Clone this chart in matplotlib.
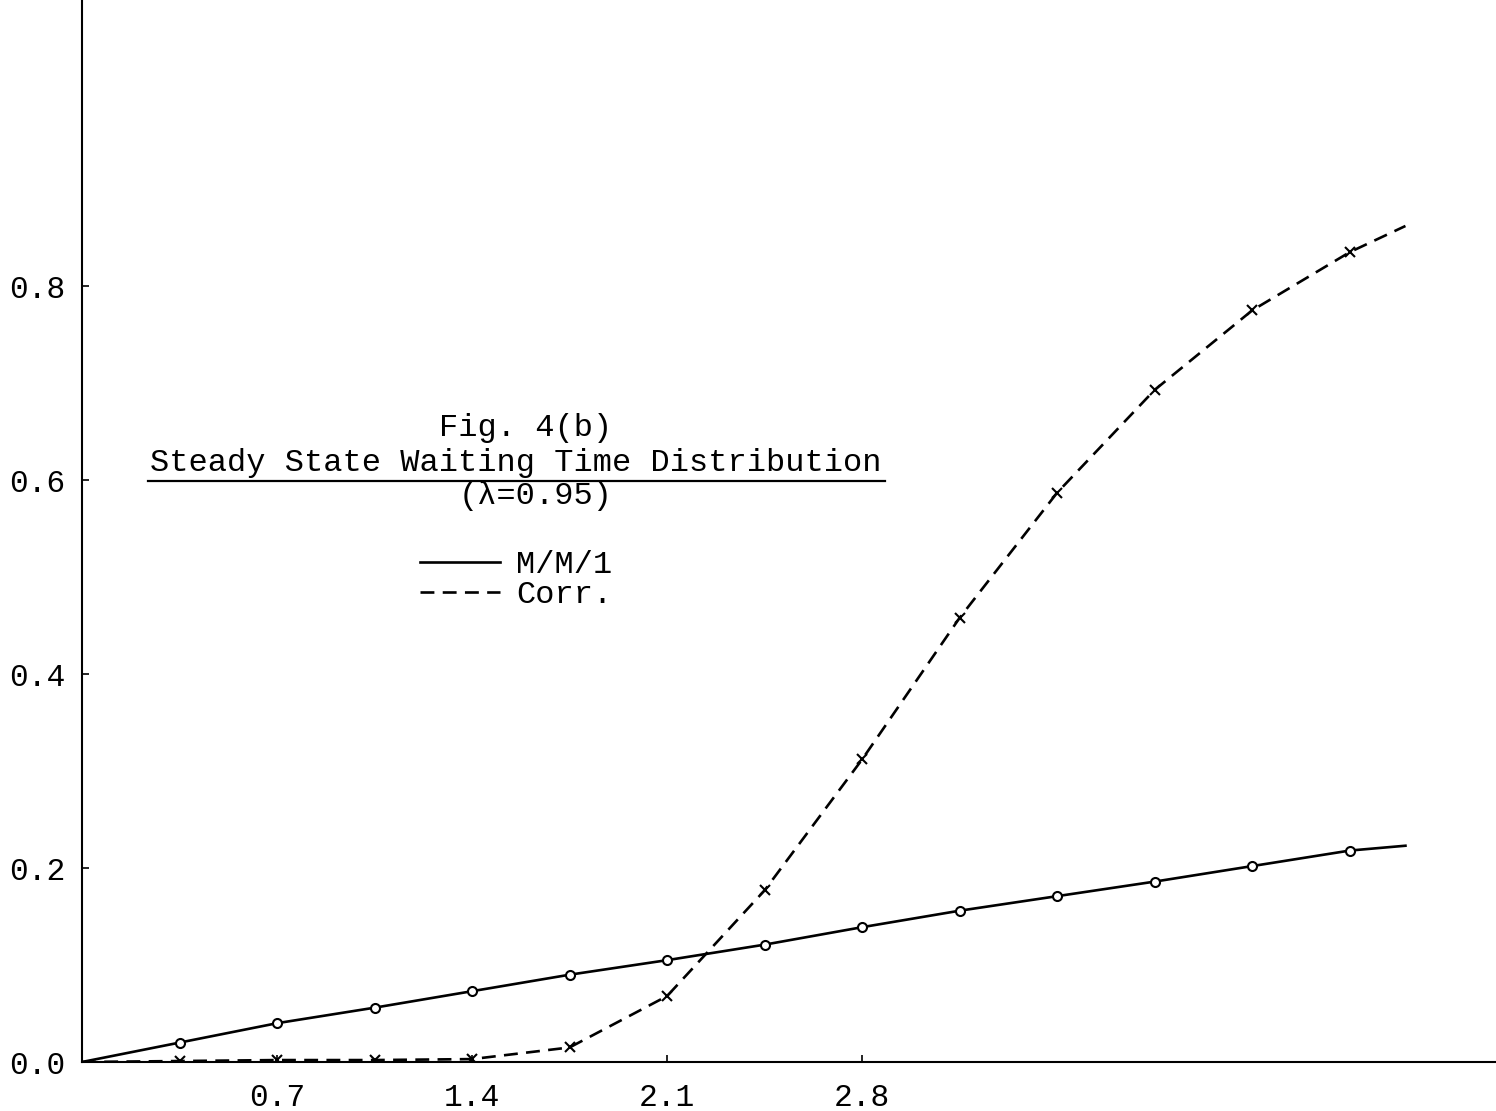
import matplotlib
matplotlib.use("Agg")
import matplotlib.pyplot as plt
from matplotlib.lines import Line2D

plt.rcParams['font.family'] = ['Liberation Mono', 'DejaVu Sans Mono']
plt.rcParams['lines.scale_dashes'] = False

# waiting time t and the two distributions
t = [0.0, 0.35, 0.7, 1.05, 1.4, 1.75, 2.1, 2.45, 2.8, 3.15, 3.5, 3.85, 4.2, 4.55, 4.75]
mm1 = [0.0, 0.020, 0.040, 0.056, 0.073, 0.090, 0.105, 0.121, 0.139, 0.156,
       0.171, 0.186, 0.202, 0.218, 0.223]
corr = [0.0, 0.001, 0.002, 0.002, 0.003, 0.015, 0.068, 0.177, 0.312, 0.458,
        0.587, 0.693, 0.775, 0.835, 0.862]

xticks = [0.7, 1.4, 2.1, 2.8]
xticklabels = ["0.7", "1.4", "2.1", "2.8"]
yticks = [0.0, 0.2, 0.4, 0.6, 0.8]
yticklabels = ["0.0", "0.2", "0.4", "0.6", "0.8"]

W, H = 1496, 1111
fig = plt.figure(figsize=(W / 100, H / 100), dpi=100)
ax = fig.add_axes([82 / W, 49 / H, 1414 / W, 1062 / H])

inner = list(range(1, len(t) - 1))
ax.plot(t, mm1, color='black', lw=1.9, marker='o', markersize=6.5,
        markerfacecolor='white', markeredgewidth=1.5, markevery=inner)
ax.plot(t, corr, color='black', lw=1.9, dashes=(10, 6), marker='x',
        markersize=7.5, markeredgewidth=1.5, markevery=inner)

ax.set_xlim(0, 5.075)
ax.set_ylim(0, 1.095)
ax.set_xticks(xticks)
ax.set_xticklabels(xticklabels)
ax.set_yticks(yticks)
ax.set_yticklabels(yticklabels)
ax.tick_params(direction='in', length=5, width=1.2, labelsize=22.5)
ax.tick_params(axis='y', pad=12)
ax.tick_params(axis='x', pad=15)
for s in ['top', 'right']:
    ax.spines[s].set_visible(False)
for s in ['left', 'bottom']:
    ax.spines[s].set_linewidth(1.5)

# title block
fig.text(526 / W, 1 - 428 / H, "Fig. 4(b)", ha='center', va='center', fontsize=23)
fig.text(516 / W, 1 - 463 / H, "Steady State Waiting Time Distribution",
         ha='center', va='center', fontsize=23)
fig.add_artist(Line2D([148 / W, 885 / W], [1 - 481 / H, 1 - 481 / H],
                      color='black', lw=1.6))
fig.text(536 / W, 1 - 496 / H, "(\u03bb=0.95)", ha='center', va='center', fontsize=23)

handles = [Line2D([], [], color='black', lw=1.9),
           Line2D([], [], color='black', lw=1.9, dashes=(10, 6))]
ax.legend(handles, ["M/M/1", "Corr."], loc='upper left',
          bbox_to_anchor=(420 / W, 1 - 550 / H), bbox_transform=fig.transFigure,
          frameon=False, fontsize=23, handlelength=2.5, handletextpad=0.5,
          labelspacing=0.0, borderpad=0, borderaxespad=0)

fig.savefig("out.png", dpi=100)
